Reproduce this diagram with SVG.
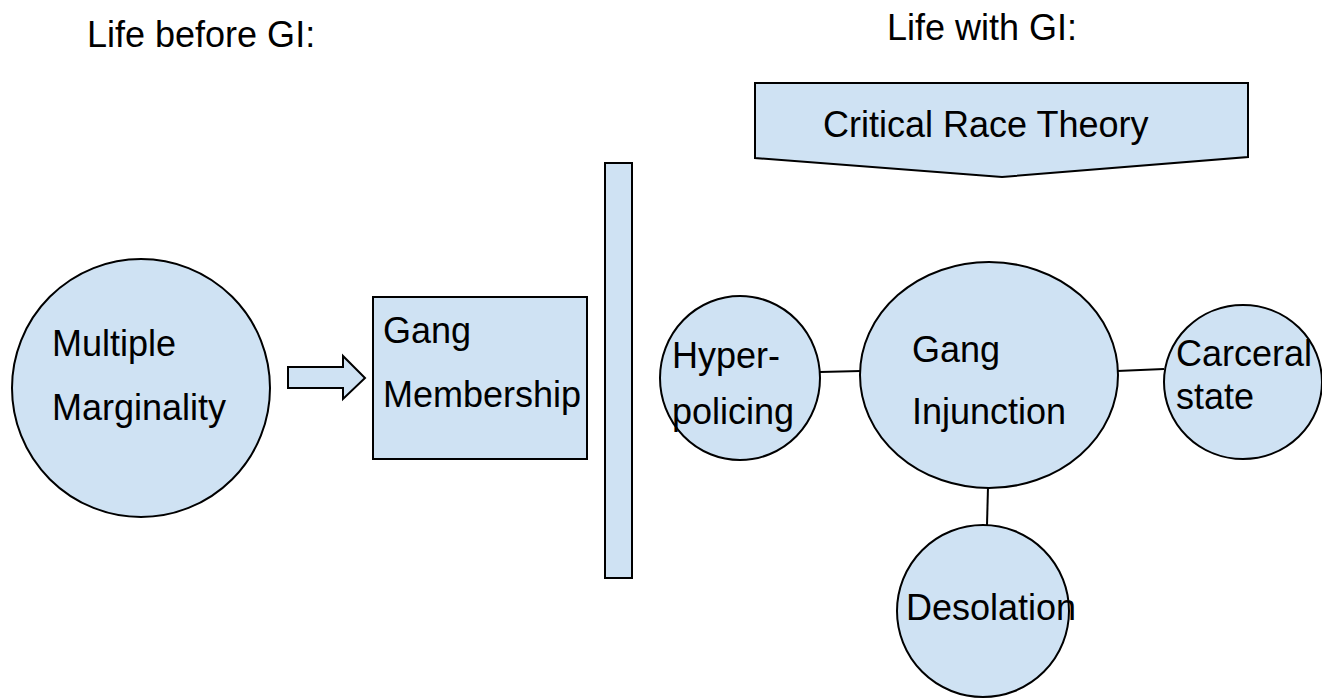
<svg xmlns="http://www.w3.org/2000/svg" width="1322" height="698" viewBox="0 0 1322 698">
<style>
.shape{fill:#cfe2f3;stroke:#000;stroke-width:2}
.t{font-family:"Liberation Sans",Arial,sans-serif;font-size:36px;fill:#000}
.title{font-family:"Liberation Sans",Arial,sans-serif;font-size:36px;fill:#000}
.conn{stroke:#000;stroke-width:2;fill:none}
</style>
<rect width="1322" height="698" fill="#fff"/>
<g id="title-before"><text class="title" x="87" y="47">Life before GI:</text></g>
<g id="title-with"><text class="title" x="887" y="40">Life with GI:</text></g>
<g id="critical-race-theory">
<polygon class="shape" points="755,83 1248,83 1248,157 1002,177 755,158"/>
<text class="t" x="823" y="137">Critical Race Theory</text>
</g>
<g id="multiple-marginality">
<ellipse class="shape" cx="141" cy="388" rx="129" ry="129"/>
<text class="t" x="52" y="356">Multiple</text>
<text class="t" x="52" y="420">Marginality</text>
</g>
<g id="block-arrow">
<polygon class="shape" points="288,367 343,367 343,356 365,378 343,399 343,388 288,388"/>
</g>
<g id="gang-membership">
<rect class="shape" x="373" y="297" width="214" height="162"/>
<text class="t" x="383" y="343">Gang</text>
<text class="t" x="383" y="407">Membership</text>
</g>
<g id="barrier">
<rect class="shape" x="605" y="163" width="27" height="415"/>
</g>
<g id="connectors">
<line class="conn" x1="820" y1="372" x2="861" y2="371"/>
<line class="conn" x1="1117" y1="371" x2="1164" y2="369"/>
<line class="conn" x1="988" y1="487" x2="987" y2="525"/>
</g>
<g id="hyper-policing">
<ellipse class="shape" cx="740" cy="378" rx="80" ry="82"/>
<text class="t" x="672" y="368">Hyper-</text>
<text class="t" x="672" y="424">policing</text>
</g>
<g id="gang-injunction">
<ellipse class="shape" cx="989" cy="375" rx="129" ry="113"/>
<text class="t" x="912" y="362">Gang</text>
<text class="t" x="912" y="424">Injunction</text>
</g>
<g id="carceral-state">
<ellipse class="shape" cx="1243" cy="382" rx="79" ry="77"/>
<text class="t" x="1176" y="366">Carceral</text>
<text class="t" x="1176" y="409">state</text>
</g>
<g id="desolation">
<ellipse class="shape" cx="983" cy="611" rx="86" ry="86"/>
<text class="t" x="906" y="620">Desolation</text>
</g>
</svg>
